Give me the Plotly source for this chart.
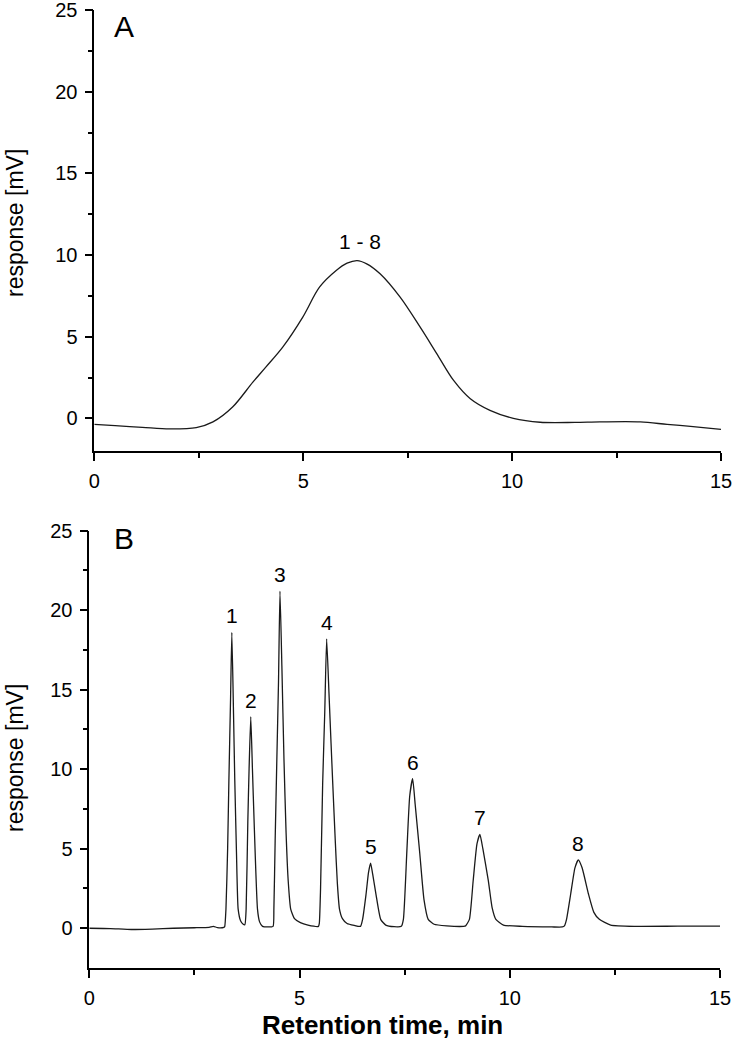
import plotly.graph_objects as go

# ---------------- data ----------------
# Panel A: unresolved chromatogram (retention time [min], response [mV])
a_time = [0.00, 0.50, 1.15, 1.80, 2.44, 2.84, 3.31, 3.79, 4.11, 4.51, 4.99,
          5.39, 5.79, 6.05, 6.29, 6.52, 6.84, 7.32, 7.80, 8.20, 8.60, 9.00, 9.47,
          10.03, 10.67, 11.50, 12.10, 13.07, 13.71, 14.27, 15.00]
a_resp = [-0.37, -0.45, -0.55, -0.65, -0.57, -0.22, 0.69, 2.20, 3.15, 4.36, 6.20,
          8.03, 9.05, 9.50, 9.66, 9.46, 8.85, 7.42, 5.58, 3.95, 2.32, 1.20, 0.49,
          0.00, -0.24, -0.25, -0.22, -0.22, -0.37, -0.49, -0.67]

# Panel B: separated chromatogram
b_time = [0.00, 0.50, 1.00, 1.50, 2.00, 2.50, 2.85, 2.95, 3.05, 3.20,
          3.22, 3.25, 3.29, 3.32, 3.36, 3.39, 3.43, 3.46, 3.50, 3.54, 3.60, 3.66, 3.70,
          3.73, 3.77, 3.80, 3.84, 3.88, 3.92, 4.00, 4.05, 4.12, 4.25,
          4.37, 4.39, 4.42, 4.46, 4.50, 4.535, 4.58, 4.63, 4.68, 4.73, 4.79, 4.88, 5.02, 5.20,
          5.45, 5.47, 5.50, 5.55, 5.60, 5.645, 5.70, 5.75, 5.79, 5.85, 5.90, 5.95, 6.02, 6.13, 6.30,
          6.45, 6.50, 6.58, 6.64, 6.69, 6.74, 6.82, 6.93, 7.05, 7.25,
          7.42, 7.47, 7.55, 7.62, 7.69, 7.75, 7.86, 7.96, 8.06, 8.20, 8.50, 8.90,
          8.95, 9.04, 9.13, 9.22, 9.29, 9.36, 9.49, 9.58, 9.67, 9.85, 10.30, 11.00, 11.25,
          11.30, 11.35, 11.45, 11.55, 11.63, 11.72, 11.87, 12.00, 12.13, 12.40, 13.00, 14.00, 15.00]
b_resp = [0.00, -0.02, -0.08, -0.05, 0.00, 0.03, 0.06, 0.12, 0.04, 0.06,
          0.10, 1.20, 5.00, 9.30, 14.50, 18.60, 13.50, 9.30, 4.80, 1.20, 0.45, 0.25, 0.22,
          1.20, 6.70, 10.00, 13.30, 10.00, 6.70, 1.20, 0.40, 0.12, 0.08,
          0.12, 1.20, 5.50, 10.60, 15.50, 21.20, 16.50, 10.60, 6.00, 3.00, 1.20, 0.60, 0.35, 0.20,
          0.12, 0.30, 2.50, 9.10, 13.60, 18.20, 14.80, 11.60, 9.10, 5.50, 2.80, 1.20, 0.60, 0.30, 0.18,
          0.12, 0.56, 2.10, 3.50, 4.10, 3.40, 2.10, 0.56, 0.20, 0.10,
          0.12, 0.56, 4.70, 8.30, 9.40, 7.80, 4.70, 1.80, 0.56, 0.25, 0.15, 0.12,
          0.15, 0.56, 3.00, 5.30, 5.90, 5.00, 3.00, 1.30, 0.56, 0.20, 0.12, 0.08, 0.08,
          0.15, 0.56, 2.17, 3.80, 4.30, 3.80, 2.17, 1.00, 0.56, 0.20, 0.12, 0.13, 0.13]

# peak labels (apex retention time / apex response)
b_peak_names = ["1", "2", "3", "4", "5", "6", "7", "8"]
b_peak_time = [3.39, 3.84, 4.535, 5.645, 6.69, 7.69, 9.29, 11.63]
b_peak_resp = [18.6, 13.3, 21.2, 18.2, 4.1, 9.4, 5.9, 4.3]
a_peak_name = "1 - 8"
a_peak_time = 6.36
a_peak_resp = 9.66

x_ticks = [0, 5, 10, 15]
y_ticks = [0, 5, 10, 15, 20, 25]

# ---------------- layout geometry ----------------
W, H = 734, 1050
FONT = "Liberation Sans, Arial, sans-serif"


def px_x(p):
    return p / W


def px_y(p):
    return 1 - p / H


fig = go.Figure()
line_style = dict(color="#1a1a1a", width=1.3)
fig.add_trace(go.Scatter(x=a_time, y=a_resp, mode="lines",
                         line=dict(shape="spline", smoothing=0.9, **line_style),
                         xaxis="x", yaxis="y", showlegend=False))
fig.add_trace(go.Scatter(x=b_time, y=b_resp, mode="lines",
                         line=dict(shape="spline", smoothing=0.5, **line_style),
                         xaxis="x2", yaxis="y2", showlegend=False))

axis_common = dict(
    showline=True, linecolor="black", linewidth=1.6,
    ticks="outside", ticklen=8, tickwidth=1.6, tickcolor="black",
    showgrid=False, zeroline=False, automargin=False,
    tickfont=dict(family=FONT, size=20, color="black"),
    ticklabelstandoff=3, ticklabeloverflow="allow",
)

xa = dict(axis_common, range=[0, 15], tickvals=x_ticks,
          minor=dict(tickvals=[2.5, 7.5, 12.5], ticks="outside", ticklen=5, tickwidth=1.6, tickcolor="black"))
ya_minor = dict(tickvals=[2.5, 7.5, 12.5, 17.5, 22.5], ticks="outside", ticklen=5, tickwidth=1.6, tickcolor="black")

fig.update_layout(
    width=W, height=H, autosize=False,
    margin=dict(l=0, r=0, t=0, b=0, pad=0),
    paper_bgcolor="white", plot_bgcolor="white",
    xaxis=dict(xa, domain=[px_x(94.3), px_x(721)], anchor="y"),
    yaxis=dict(axis_common, range=[-2, 25], tickvals=y_ticks, minor=ya_minor,
               domain=[px_y(451), px_y(10)], anchor="x"),
    xaxis2=dict(xa, domain=[px_x(89.3), px_x(720)], anchor="y2"),
    yaxis2=dict(axis_common, range=[-2.5, 25], tickvals=y_ticks, minor=ya_minor,
                domain=[px_y(968), px_y(530.7)], anchor="x2"),
)

ann = []
# panel letters
ann.append(dict(text="A", x=px_x(124), y=px_y(26), xref="paper", yref="paper", showarrow=False,
                font=dict(family=FONT, size=30, color="black"), xanchor="center", yanchor="middle"))
ann.append(dict(text="B", x=px_x(124), y=px_y(538), xref="paper", yref="paper", showarrow=False,
                font=dict(family=FONT, size=30, color="black"), xanchor="center", yanchor="middle"))
# y axis titles
for yc in (223, 758):
    ann.append(dict(text="response [mV]", x=px_x(15), y=px_y(yc), xref="paper", yref="paper",
                    showarrow=False, textangle=-90, xanchor="center", yanchor="middle",
                    font=dict(family=FONT, size=23, color="black")))
# x axis title
ann.append(dict(text="<b>Retention time, min</b>", x=px_x(382), y=px_y(1025), xref="paper", yref="paper",
                showarrow=False, xanchor="center", yanchor="middle",
                font=dict(family=FONT, size=26, color="black")))
# peak labels
ann.append(dict(text=a_peak_name, x=a_peak_time, y=a_peak_resp, xref="x", yref="y", showarrow=False,
                yanchor="bottom", yshift=6, font=dict(family=FONT, size=21, color="black")))
for name, t, r in zip(b_peak_names, b_peak_time, b_peak_resp):
    ann.append(dict(text=name, x=t, y=r, xref="x2", yref="y2", showarrow=False,
                    yanchor="bottom", yshift=3, font=dict(family=FONT, size=21, color="black")))
fig.update_layout(annotations=ann)

fig.write_html(
    "out.html",
    config={"displayModeBar": False, "responsive": False},
    post_script=("document.body.style.margin='0px';"
                 "document.body.style.overflow='hidden';"
                 "document.documentElement.style.overflow='hidden';"),
)
